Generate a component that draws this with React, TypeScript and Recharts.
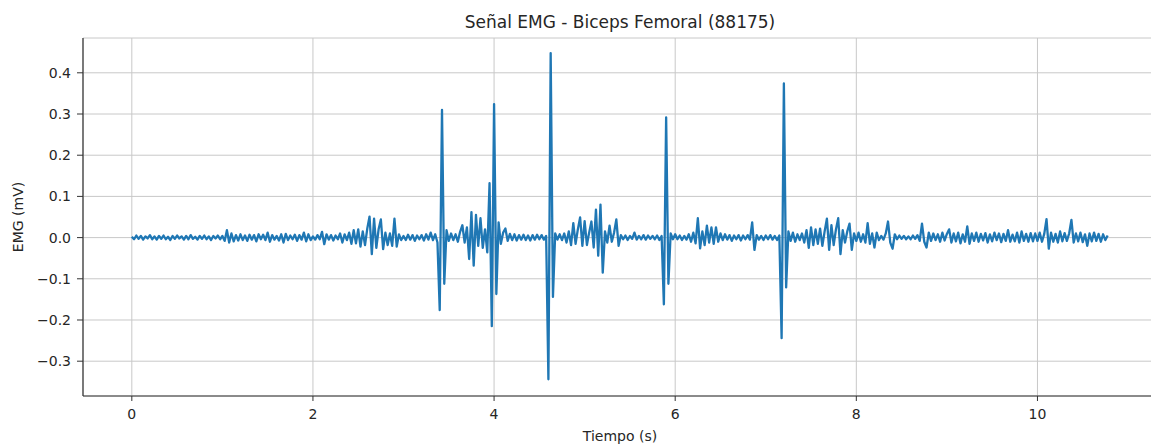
import { LineChart, Line, XAxis, YAxis, CartesianGrid } from 'recharts'

// EMG samples, one array per second of recording, 25 ms apart
const SAMPLE_STEP = 0.025

const emg0 = [
  0.002, -0.004, 0.005, -0.003, 0.004, -0.005, 0.003, -0.002, 0.006, -0.004,
  0.003, -0.005, 0.004, -0.003, 0.005, -0.004, 0.002, -0.006, 0.004, -0.003,
  0.005, -0.002, 0.003, -0.005, 0.004, -0.004, 0.006, -0.003, 0.002, -0.005,
  0.004, -0.003, 0.005, -0.004, 0.003, -0.006, 0.004, -0.002, 0.005, -0.004,
]
const emg1 = [
  0.004, -0.008, 0.018, -0.012, 0.01, -0.009, 0.006, -0.007, 0.008, -0.006,
  0.005, -0.008, 0.007, -0.005, 0.006, -0.009, 0.008, -0.004, 0.007, -0.006,
  0.012, -0.01, 0.006, -0.005, 0.004, -0.007, 0.008, -0.012, 0.009, -0.006,
  0.005, -0.004, 0.007, -0.008, 0.006, -0.005, 0.012, -0.009, 0.008, -0.006,
]
const emg2 = [
  0.003, -0.005, 0.006, -0.004, 0.014, -0.016, 0.008, -0.005, 0.006, -0.007,
  0.005, -0.004, 0.01, -0.012, 0.008, -0.006, 0.012, -0.015, 0.018, -0.014,
  0.02, -0.022, 0.015, -0.018, 0.022, 0.051, -0.04, 0.046, -0.025, 0.02,
  0.044, -0.028, 0.012, -0.018, 0.01, -0.02, 0.046, -0.022, 0.008, -0.006,
]
const emg3 = [
  0.004, -0.006, 0.007, -0.005, 0.006, -0.008, 0.005, -0.004, 0.006, -0.007,
  0.008, -0.005, 0.012, -0.006, 0.008, -0.012, -0.176, 0.31, -0.112, 0.018,
  -0.008, 0.01, -0.006, 0.008, -0.01, 0.014, 0.03, -0.012, 0.025, -0.052,
  0.062, -0.068, 0.055, -0.02, 0.047, -0.025, 0.02, -0.036, 0.132, -0.215,
]
const emg4 = [
  0.324, -0.137, 0.037, -0.015, 0.012, 0.022, -0.008, 0.009, -0.006, 0.008,
  -0.007, 0.006, -0.005, 0.007, -0.006, 0.005, -0.007, 0.006, -0.005, 0.007,
  -0.004, 0.006, -0.005, 0.004, -0.344, 0.448, -0.144, 0.01, -0.005, 0.008,
  -0.006, 0.01, -0.012, 0.015, -0.018, 0.035, -0.015, 0.02, 0.049, -0.02,
]
const emg5 = [
  0.04, -0.018, 0.012, 0.039, -0.024, 0.068, -0.044, 0.08, -0.085, 0.015,
  -0.012, 0.029, -0.01, 0.012, 0.044, -0.02, 0.006, -0.004, 0.005, -0.006,
  0.004, -0.003, 0.012, -0.005, 0.004, -0.004, 0.006, -0.005, 0.005, -0.003,
  0.004, -0.004, 0.005, -0.006, 0.004, -0.162, 0.292, -0.112, 0.01, -0.004,
]
const emg6 = [
  0.008, -0.004, 0.005, -0.006, 0.004, -0.005, 0.008, -0.01, 0.012, -0.014,
  0.047, -0.026, 0.015, -0.018, 0.029, -0.012, 0.025, -0.015, 0.025, -0.01,
  0.01, -0.006, 0.008, -0.005, 0.006, -0.008, 0.005, -0.004, 0.006, -0.007,
  0.005, -0.004, 0.006, -0.005, 0.037, -0.03, 0.006, -0.005, 0.004, -0.006,
]
const emg7 = [
  0.005, -0.004, 0.006, -0.005, 0.004, -0.006, 0.005, -0.244, 0.374, -0.121,
  0.015, -0.008, 0.012, -0.01, 0.008, -0.006, 0.01, -0.012, 0.018, -0.025,
  0.025, -0.018, 0.02, -0.015, 0.022, -0.02, 0.015, 0.046, -0.03, 0.03,
  -0.018, 0.02, 0.047, -0.04, 0.018, -0.012, 0.015, 0.034, -0.03, 0.01,
]
const emg8 = [
  -0.008, 0.012, -0.01, 0.008, -0.012, 0.035, -0.015, 0.01, -0.024, 0.012,
  -0.006, 0.004, -0.005, 0.01, 0.039, -0.012, -0.027, 0.008, -0.004, 0.005,
  -0.003, 0.004, -0.004, 0.003, -0.004, 0.005, -0.003, 0.006, -0.008, 0.034,
  -0.01, -0.024, 0.012, -0.008, 0.01, -0.006, 0.008, -0.01, 0.012, -0.007,
]
const emg9 = [
  0.009, 0.02, -0.012, 0.01, -0.009, 0.012, -0.014, 0.008, -0.01, 0.027,
  -0.015, 0.01, -0.008, 0.012, -0.01, 0.009, -0.007, 0.011, -0.012, 0.008,
  -0.009, 0.012, -0.006, 0.01, -0.011, 0.009, -0.008, 0.018, -0.01, 0.007,
  -0.009, 0.012, -0.012, 0.015, -0.008, 0.009, -0.01, 0.011, -0.009, 0.01,
]
const emg10 = [
  -0.008, 0.012, -0.01, 0.009, 0.045, -0.027, 0.012, -0.01, 0.009, -0.012,
  0.015, -0.009, 0.011, -0.008, 0.01, 0.043, -0.012, 0.01, -0.009, 0.012,
  -0.011, 0.008, -0.02, 0.01, -0.009, 0.012, -0.008, 0.009, -0.01, 0.008,
  -0.006, 0.005,
]

const seconds = [emg0, emg1, emg2, emg3, emg4, emg5, emg6, emg7, emg8, emg9, emg10]

const X_TICKS = [0, 2, 4, 6, 8, 10]
const Y_TICKS = [-0.3, -0.2, -0.1, 0, 0.1, 0.2, 0.3, 0.4]

const data = seconds.flatMap((samples, sec) =>
  samples.map((v, i) => ({ t: sec + i * SAMPLE_STEP, emg: v }))
)

const fmtY = (v: number) => v.toFixed(1).replace('-', '\u2212')

const FONT = '"DejaVu Sans", sans-serif'
const TEXT = '#262626'

export default function App() {
  return (
    <div
      style={{
        position: 'absolute',
        left: 0,
        top: 0,
        width: 1151,
        height: 447,
        overflow: 'hidden',
        background: '#fff',
        fontFamily: FONT,
        color: TEXT,
      }}
    >
      <div
        style={{
          position: 'absolute',
          top: 13,
          left: 0,
          width: 1240,
          textAlign: 'center',
          fontSize: 17,
          lineHeight: '18px',
        }}
      >
        Señal EMG - Biceps Femoral (88175)
      </div>
      <div
        style={{
          position: 'absolute',
          top: 428,
          left: 0,
          width: 1240,
          textAlign: 'center',
          fontSize: 14,
          lineHeight: '16px',
        }}
      >
        Tiempo (s)
      </div>
      <div
        style={{
          position: 'absolute',
          left: -82,
          top: 209,
          width: 200,
          textAlign: 'center',
          fontSize: 14,
          lineHeight: '16px',
          transform: 'rotate(-90deg)',
        }}
      >
        EMG (mV)
      </div>

      <LineChart
        width={1160}
        height={447}
        data={data}
        margin={{ top: 38, right: 3, bottom: 21, left: 23 }}
        style={{ position: 'absolute', left: 0, top: 0 }}
      >
        <CartesianGrid stroke="#c8c8c8" strokeWidth={1} />
        <XAxis
          type="number"
          dataKey="t"
          domain={[-0.539, 11.32]}
          ticks={X_TICKS}
          allowDataOverflow
          height={30}
          tickSize={5}
          tickMargin={8}
          axisLine={{ stroke: '#333', strokeWidth: 1.2 }}
          tickLine={{ stroke: '#333' }}
          tick={{ fill: TEXT, fontSize: 14, fontFamily: FONT }}
        />
        <XAxis
          xAxisId="top"
          orientation="top"
          type="number"
          domain={[-0.539, 11.32]}
          height={0}
          tick={false}
          tickLine={false}
          axisLine={{ stroke: '#333', strokeWidth: 1.2 }}
        />
        <YAxis
          type="number"
          domain={[-0.3845, 0.4845]}
          ticks={Y_TICKS}
          allowDataOverflow
          width={60}
          tickSize={6}
          tickMargin={6}
          tickFormatter={fmtY}
          axisLine={{ stroke: '#333', strokeWidth: 1.2 }}
          tickLine={{ stroke: '#333' }}
          tick={{ fill: TEXT, fontSize: 14, fontFamily: FONT }}
        />
        <Line
          type="linear"
          dataKey="emg"
          stroke="#1f77b4"
          strokeWidth={2.3}
          strokeLinejoin="round"
          dot={false}
          activeDot={false}
          isAnimationActive={false}
        />
      </LineChart>
    </div>
  )
}
